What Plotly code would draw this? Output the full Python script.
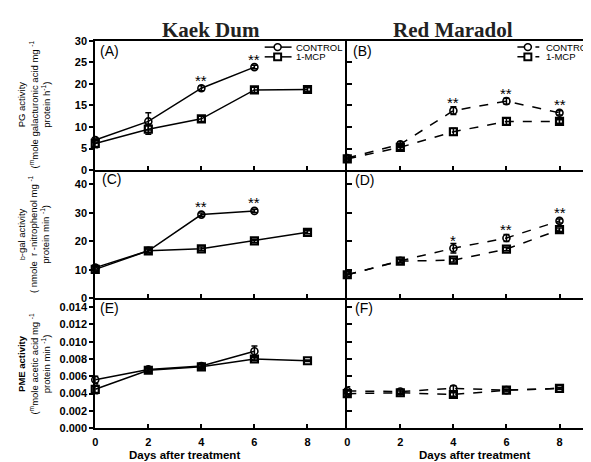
import plotly.graph_objects as go

W, H = 591, 462
OX, OY = 8, 8  # page body margin offset

days_kd_control = [0, 2, 4, 6]
days_kd_mcp = [0, 2, 4, 6, 8]
days_rm = [0, 2, 4, 6, 8]

# Panel A: Kaek Dum PG
pg_kd_control = [7.0, 11.3, 19.0, 23.9]
pg_kd_control_err = [0.5, 2.0, 0.6, 0.4]
pg_kd_mcp = [6.2, 9.5, 11.9, 18.6, 18.7]
pg_kd_mcp_err = [1.0, 1.2, 0.6, 0.6, 0.4]
# Panel B: Red Maradol PG
pg_rm_control = [2.8, 6.0, 13.8, 16.0, 13.3]
pg_rm_control_err = [0.4, 0.6, 0.9, 0.7, 0.5]
pg_rm_mcp = [2.6, 5.3, 8.9, 11.3, 11.3]
pg_rm_mcp_err = [0.4, 0.5, 0.8, 0.8, 0.4]
# Panel C: Kaek Dum b-gal
bg_kd_control = [10.8, 16.7, 29.4, 30.7]
bg_kd_control_err = [0.8, 0.6, 0.6, 0.6]
bg_kd_mcp = [10.2, 16.7, 17.4, 20.2, 23.2]
bg_kd_mcp_err = [0.8, 0.6, 0.6, 0.6, 0.5]
# Panel D: Red Maradol b-gal
bg_rm_control = [8.3, 13.2, 17.6, 21.2, 27.2]
bg_rm_control_err = [0.6, 0.5, 1.7, 1.2, 0.7]
bg_rm_mcp = [8.3, 13.1, 13.4, 17.3, 24.1]
bg_rm_mcp_err = [0.6, 0.5, 0.6, 0.6, 0.6]
# Panel E: Kaek Dum PME
pme_kd_control = [0.0056, 0.0068, 0.0072, 0.0089]
pme_kd_control_err = [0.0004, 0.0002, 0.0002, 0.0006]
pme_kd_mcp = [0.0045, 0.0067, 0.0071, 0.0080, 0.0078]
pme_kd_mcp_err = [0.0005, 0.0002, 0.0002, 0.0002, 0.0001]
# Panel F: Red Maradol PME
pme_rm_control = [0.0043, 0.00425, 0.0046, 0.0044, 0.0046]
pme_rm_control_err = [0.0005, 0.0002, 0.0003, 0.0001, 0.0001]
pme_rm_mcp = [0.0040, 0.0041, 0.0039, 0.0044, 0.0046]
pme_rm_mcp_err = [0.0004, 0.0002, 0.0002, 0.0001, 0.0001]

# significance marks: (panel axis suffix, day, control value, label)
sig_marks = [
    ("", 4, pg_kd_control[2], "**"), ("", 6, pg_kd_control[3], "**"),
    ("2", 4, pg_rm_control[2], "**"), ("2", 6, pg_rm_control[3], "**"), ("2", 8, pg_rm_control[4], "**"),
    ("3", 4, bg_kd_control[2], "**"), ("3", 6, bg_kd_control[3], "**"),
    ("4", 4, bg_rm_control[2], "*"), ("4", 6, bg_rm_control[3], "**"), ("4", 8, bg_rm_control[4], "**"),
]

x_ticks = [0, 2, 4, 6, 8]
series_names = ["CONTROL", "1-MCP"]

FONT = "Liberation Sans, Arial, sans-serif"


def px_x(p):
    return (p - OX) / W


def px_y(p):
    return 1 - (p - OY) / H


fig = go.Figure()


def add_pair(ax, xc, yc, ec, xm, ym, em, dash):
    xa = "x" + ax
    ya = "y" + ax
    for xs, ys, es, sym, lw in [(xc, yc, ec, "circle-open", 1.6), (xm, ym, em, "square-open", 2.2)]:
        fig.add_trace(go.Scatter(
            x=xs, y=ys, xaxis=xa, yaxis=ya, mode="lines+markers",
            line=dict(color="black", width=1.5, dash=dash),
            marker=dict(symbol=sym, size=7, color="black", line=dict(color="black", width=lw)),
            error_y=dict(type="data", array=es, visible=True, color="black", thickness=1.5, width=3),
            cliponaxis=False, showlegend=False))


add_pair("", days_kd_control, pg_kd_control, pg_kd_control_err, days_kd_mcp, pg_kd_mcp, pg_kd_mcp_err, "solid")
add_pair("2", days_rm, pg_rm_control, pg_rm_control_err, days_rm, pg_rm_mcp, pg_rm_mcp_err, "dash")
add_pair("3", days_kd_control, bg_kd_control, bg_kd_control_err, days_kd_mcp, bg_kd_mcp, bg_kd_mcp_err, "solid")
add_pair("4", days_rm, bg_rm_control, bg_rm_control_err, days_rm, bg_rm_mcp, bg_rm_mcp_err, "dash")
add_pair("5", days_kd_control, pme_kd_control, pme_kd_control_err, days_kd_mcp, pme_kd_mcp, pme_kd_mcp_err, "solid")
add_pair("6", days_rm, pme_rm_control, pme_rm_control_err, days_rm, pme_rm_mcp, pme_rm_mcp_err, "dash")

# domains (pixels -> paper)
xl = [px_x(92.7), px_x(346)]
xr = [px_x(346), 1.0]
yA = [px_y(168.3), px_y(35.5)]
yC = [px_y(300), px_y(168.3)]
yE = [px_y(433.3), px_y(300)]

tickfont = dict(family=FONT, size=11, color="black", weight="bold")


def xaxis(dom, anchor, labels, rng, mirror=False):
    return dict(domain=dom, anchor=anchor, range=rng, tickvals=x_ticks, showticklabels=labels,
                ticks="inside", ticklen=4, tickwidth=1.5, tickcolor="black",
                showline=True, linecolor="black", linewidth=2, mirror=mirror,
                showgrid=False, zeroline=False, tickfont=tickfont,
                ticklabelstandoff=3)


def yaxis(dom, anchor, rng, dtick, left, fmt=None):
    d = dict(domain=dom, anchor=anchor, range=rng, dtick=dtick, tick0=0,
             showticklabels=left, ticks="outside" if left else "inside", ticklen=4 if left else 5,
             tickwidth=1.5, tickcolor="black", showline=True, linecolor="black", linewidth=2,
             showgrid=False, zeroline=False, tickfont=tickfont)
    if fmt:
        d["tickformat"] = fmt
    return d


ppd = (306 - 92.7) / 8.0  # pixels per day
rngL = [0, (346 - 92.7) / ppd]
rngR = [0, (W + OX - 346) / ppd]

fig.update_layout(
    width=W, height=H, margin=dict(l=0, r=0, t=0, b=0),
    paper_bgcolor="white", plot_bgcolor="white", showlegend=False,
    xaxis=xaxis(xl, "y", False, rngL, True),
    yaxis=yaxis(yA, "x", [0, 30], 5, True),
    xaxis2=xaxis(xr, "y2", False, rngR, True),
    yaxis2=yaxis(yA, "x2", [0, 30], 5, False),
    xaxis3=xaxis(xl, "y3", False, rngL),
    yaxis3=yaxis(yC, "x3", [0, 45], 10, True),
    xaxis4=xaxis(xr, "y4", False, rngR),
    yaxis4=yaxis(yC, "x4", [0, 45], 10, False),
    xaxis5=xaxis(xl, "y5", True, rngL),
    yaxis5=yaxis(yE, "x5", [0, 0.015], 0.002, True, ".3f"),
    xaxis6=xaxis(xr, "y6", True, rngR),
    yaxis6=yaxis(yE, "x6", [0, 0.015], 0.002, False, ".3f"),
)

ann = []
# significance stars
for ax, d, v, lab in sig_marks:
    ann.append(dict(x=d, y=v, xref="x" + ax, yref="y" + ax, text=lab, showarrow=False,
                    xanchor="center", yanchor="middle", yshift=8,
                    font=dict(family=FONT, size=15, color="black")))

# column titles
serif = dict(family="Liberation Serif, Times New Roman, serif", size=21, color="#222", weight="bold")
ann.append(dict(x=px_x(209), y=px_y(24), xref="paper", yref="paper", text="Kaek Dum",
                xanchor="center", yanchor="middle", showarrow=False, font=serif))
ann.append(dict(x=px_x(452), y=px_y(24), xref="paper", yref="paper", text="Red Maradol",
                xanchor="center", yanchor="middle", showarrow=False, font=serif))

# panel letters
for lab, x, y in [("(A)", 95, 46), ("(B)", 350, 46), ("(C)", 97, 177), ("(D)", 352, 178),
                  ("(E)", 95, 310), ("(F)", 352, 310)]:
    ann.append(dict(x=px_x(x), y=px_y(y), xref="paper", yref="paper", text=lab, showarrow=False,
                    xanchor="left", yanchor="middle", font=dict(family=FONT, size=14, color="black")))

# y titles
ytitles = [
    ("PG activity<br>(<sup>m</sup>mole galacturonic acid mg <sup>-1</sup><br>protein h<sup>-1</sup>)", 101),
    ("<span style='font-size:7px'>b</span>-gal activity<br>( nmole  r -nitrophenol mg <sup>-1</sup><br>protein min <sup>-1</sup>)", 234),
    ("<b>PME activity</b><br>(<sup>m</sup>mole acetic acid mg <sup>-1</sup><br>protein min <sup>-1</sup>)", 367),
]
for t, yc in ytitles:
    ann.append(dict(x=px_x(31), y=px_y(yc), xref="paper", yref="paper", text=t, showarrow=False,
                    textangle=-90, xanchor="center", yanchor="middle",
                    font=dict(family=FONT, size=9.5, color="black")))

# x titles
for xc in (182, 474):
    ann.append(dict(x=px_x(xc), y=px_y(453), xref="paper", yref="paper", text="Days after treatment",
                    showarrow=False, xanchor="center", yanchor="top",
                    font=dict(family=FONT, size=11.5, color="black", weight="bold")))

# manual legends
shapes = []
for (lx0, lx1, mx, tx, dash) in [(263, 290, 276, 292, "solid"), (517, 539, 527.5, 544, "dash")]:
    for i, name in enumerate(series_names):
        yy = 42 + 10 * i
        shapes.append(dict(type="line", xref="paper", yref="paper", x0=px_x(lx0), x1=px_x(lx1),
                           y0=px_y(yy), y1=px_y(yy), line=dict(color="black", width=1.5, dash=dash)))
        r = 3.5
        shapes.append(dict(type="circle" if i == 0 else "rect", xref="paper", yref="paper",
                           x0=px_x(mx - r), x1=px_x(mx + r), y0=px_y(yy + r), y1=px_y(yy - r),
                           fillcolor="white", line=dict(color="black", width=1.6 if i == 0 else 2)))
        ann.append(dict(x=px_x(tx), y=px_y(yy), xref="paper", yref="paper", text=name, showarrow=False,
                        xanchor="left", yanchor="middle", font=dict(family=FONT, size=9.5, color="black")))

fig.update_layout(annotations=ann, shapes=shapes)
fig.write_html("out.html")
